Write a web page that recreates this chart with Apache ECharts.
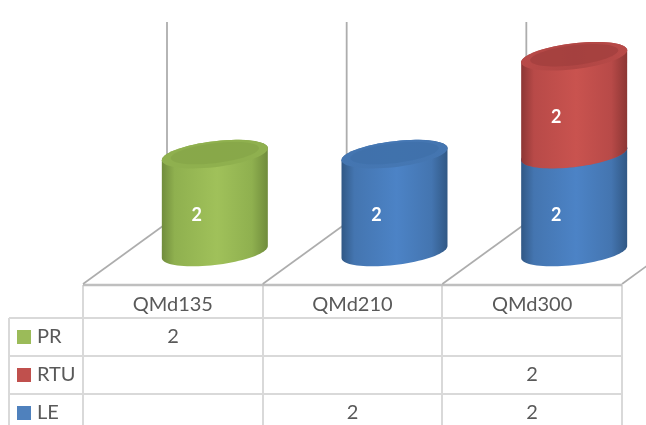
<!DOCTYPE html>
<html>
<head>
<meta charset="utf-8">
<style>html,body{margin:0;padding:0;background:#fff}#chart{width:646px;height:425px}</style>
<script src="https://cdn.jsdelivr.net/npm/echarts@6/dist/echarts.min.js"></script>
</head>
<body>
<div id="chart"></div>
<script>
const categories = ['QMd135', 'QMd210', 'QMd300'];
const seriesNames = ['PR', 'RTU', 'LE'];
const prValues = [2, null, null];
const rtuValues = [null, null, 2];
const leValues = [null, 2, 2];

const FONT = 'Lato, "Open Sans", sans-serif';
const TEXT = '#595959';
const RULE = '#d9d9d9';
const WALL = '#adadad';

// Perspective of the floor: how far back a bar stands from its table column
const FLOOR_DX = 42;
const RADIUS = 53, RY = 13, TILT = 6;

const palette = {
  PR:  { key: '#9bbb59', light: '#a0c15a', mid: '#8fb04f', dark: '#708c3c', top: '#86a548', rim: '#8fb04e' },
  RTU: { key: '#c0504d', light: '#c9534f', mid: '#b84a48', dark: '#8c3634', top: '#a23f3d', rim: '#b04644' },
  LE:  { key: '#4f81bd', light: '#4c83c6', mid: '#4475b0', dark: '#315885', top: '#3f70a9', rim: '#4577b3' }
};

// Tilted ellipse as a point list; from and to are angles in radians
function arc(cx, cy, rx, ry, from, to, steps) {
  const pts = [];
  for (let i = 0; i <= steps; i++) {
    const t = from + (to - from) * i / steps;
    pts.push([cx + rx * Math.cos(t), cy + ry * Math.sin(t) - TILT * (rx / RADIUS) * Math.cos(t)]);
  }
  return pts;
}

function cylinder(name) {
  return function (params, api) {
    const cat = api.value(0), value = api.value(1), base = api.value(2);
    if (isNaN(value)) return null;
    const c = palette[name];
    const bottom = api.coord([cat, base]);
    const top = api.coord([cat, base + value]);
    const cx = bottom[0] + FLOOR_DX;
    const side = new echarts.graphic.LinearGradient(0, 0, 1, 0, [
      { offset: 0, color: c.dark },
      { offset: 0.12, color: c.mid },
      { offset: 0.52, color: c.light },
      { offset: 0.85, color: c.mid },
      { offset: 1, color: c.dark }
    ]);
    const capGrad = new echarts.graphic.LinearGradient(0, 0, 1, 0, [
      { offset: 0, color: c.mid },
      { offset: 0.5, color: c.rim },
      { offset: 1, color: c.mid }
    ]);
    // Side wall runs along the front of the base and the back of the top rim
    const body = arc(cx, bottom[1], RADIUS, RY, 0, Math.PI, 40)
      .concat(arc(cx, top[1], RADIUS, RY, Math.PI, Math.PI * 2, 40));
    return {
      type: 'group',
      children: [
        { type: 'polygon', shape: { points: body }, style: { fill: side } },
        { type: 'polygon', shape: { points: arc(cx, top[1], RADIUS, RY, 0, Math.PI * 2, 60) }, style: { fill: capGrad } },
        { type: 'polygon', shape: { points: arc(cx, top[1] - 1, RADIUS - 9, RY - 3, 0, Math.PI * 2, 60) }, style: { fill: c.top, opacity: 0.75 } },
        {
          type: 'text',
          style: {
            x: cx - 18, y: (bottom[1] + top[1]) / 2 + 12,
            text: String(value), fill: '#fff', font: 'bold 18px ' + FONT,
            align: 'center', verticalAlign: 'middle'
          }
        }
      ]
    };
  };
}

// Back wall and floor edges, one pair for every column boundary
function frame(params, api) {
  const i = api.value(0);
  const band = api.size([1, 0])[0];
  const xs = [api.coord([i, 0])[0] - band / 2];
  if (i === categories.length - 1) xs.push(xs[0] + band);
  const top = api.coord([i, 4.7])[1];
  const children = [];
  xs.forEach(function (x) {
    const back = x + 84;
    children.push({ type: 'line', shape: { x1: x, y1: 284, x2: back, y2: 223 }, style: { stroke: WALL, lineWidth: 1.6 } });
    children.push({ type: 'line', shape: { x1: back, y1: 223, x2: back, y2: top }, style: { stroke: WALL, lineWidth: 1.8 } });
  });
  return { type: 'group', children: children };
}

function stacked(values, below) {
  return values.map(function (v, i) {
    const base = below.reduce(function (s, arr) { return s + (arr[i] || 0); }, 0);
    return [i, v === null ? NaN : v, base];
  });
}

// Data table under the plot
const COLS = [83, 263, 442, 622];
const ROWS = [318, 356, 394];
const LEFT = 9, HEADER = 285, BOTTOM = 425;
const rowValues = [prValues, rtuValues, leValues];
const table = [];
function rule(x1, y1, x2, y2, stroke, w) {
  table.push({ type: 'line', z: -2, shape: { x1, y1, x2, y2 }, style: { stroke: stroke, lineWidth: w } });
}
COLS.forEach(function (x) { rule(x, HEADER, x, BOTTOM, RULE, 2); });
rule(LEFT, ROWS[0], LEFT, BOTTOM, RULE, 2);
ROWS.forEach(function (y) { rule(LEFT, y, COLS[3], y, RULE, 2); });
rule(COLS[0], HEADER, COLS[3], HEADER, '#bfbfbf', 2.5);
seriesNames.forEach(function (name, r) {
  const mid = ROWS[r] + 19;
  table.push({ type: 'rect', shape: { x: 17, y: mid - 7, width: 14, height: 14 }, style: { fill: palette[name].key } });
  table.push({ type: 'text', x: 37, y: mid, style: { text: name, fill: TEXT, font: '20px ' + FONT, align: 'left', verticalAlign: 'middle' } });
  rowValues[r].forEach(function (v, c) {
    if (v === null) return;
    table.push({ type: 'text', x: (COLS[c] + COLS[c + 1]) / 2, y: mid, style: { text: String(v), fill: TEXT, font: '20px ' + FONT, align: 'center', verticalAlign: 'middle' } });
  });
});

const chart = echarts.init(document.getElementById('chart'), null, { renderer: 'canvas' });
chart.setOption({
  animation: false,
  backgroundColor: '#fff',
  grid: { left: 83, right: 24, top: 22, height: 230 },
  xAxis: {
    type: 'category',
    data: categories,
    axisLine: { show: false },
    axisTick: { show: false },
    axisLabel: { color: TEXT, fontFamily: FONT, fontSize: 20, margin: 43 }
  },
  yAxis: { type: 'value', min: 0, max: 4.7, show: false },
  graphic: table,
  series: [
    { type: 'custom', name: 'frame', z: 1, silent: true, clip: false, renderItem: frame, data: categories.map(function (_, i) { return [i]; }), encode: { x: 0 } },
    { type: 'custom', name: 'LE', z: 2, clip: false, renderItem: cylinder('LE'), data: stacked(leValues, []), encode: { x: 0, y: 1 } },
    { type: 'custom', name: 'RTU', z: 3, clip: false, renderItem: cylinder('RTU'), data: stacked(rtuValues, [leValues]), encode: { x: 0, y: 1 } },
    { type: 'custom', name: 'PR', z: 4, clip: false, renderItem: cylinder('PR'), data: stacked(prValues, [leValues, rtuValues]), encode: { x: 0, y: 1 } }
  ]
});
</script>
</body>
</html>
